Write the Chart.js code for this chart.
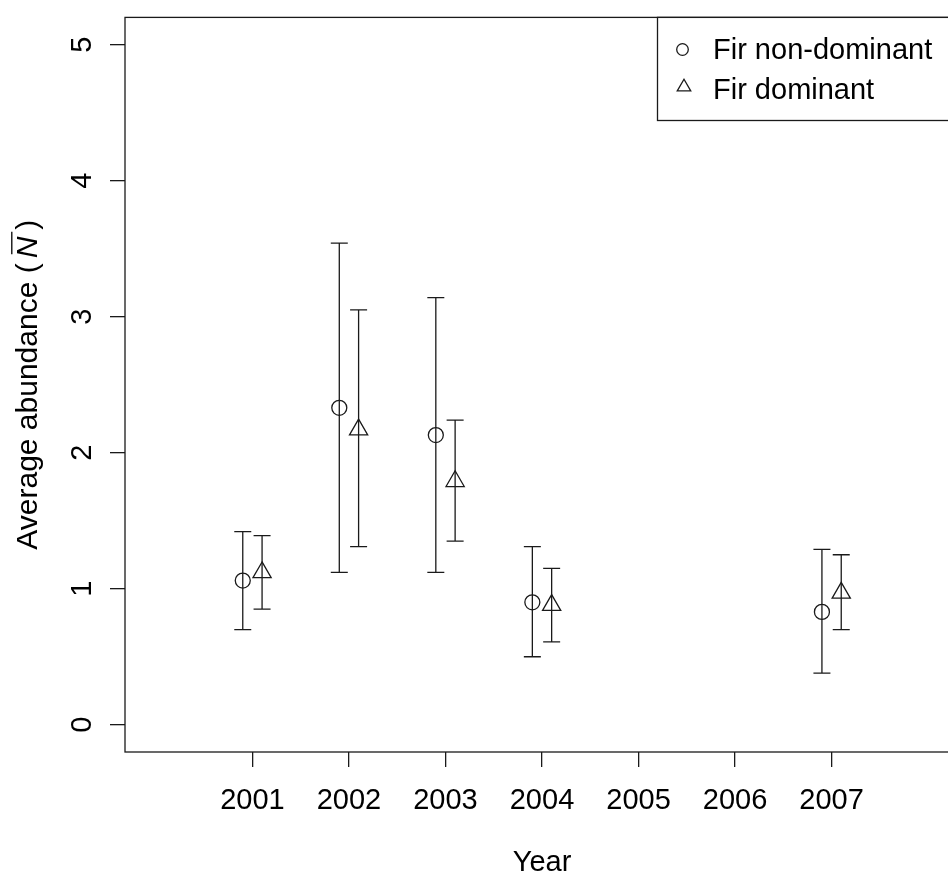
<!DOCTYPE html>
<html><head><meta charset="utf-8">
<script src="https://cdn.jsdelivr.net/npm/chart.js@4"></script>
<style>
html,body{margin:0;padding:0;background:#fff;}
#wrap{width:948px;height:875px;overflow:hidden;position:relative;background:#fff;}
canvas{display:block;}
</style></head><body>
<div id="wrap"><canvas id="c" width="975" height="875"></canvas></div>
<script>
// ---- data ----
const years = [2001, 2002, 2003, 2004, 2007];
const nonDomMean  = [1.06, 2.33, 2.13, 0.90, 0.83];
const nonDomLower = [0.70, 1.12, 1.12, 0.50, 0.38];
const nonDomUpper = [1.42, 3.54, 3.14, 1.31, 1.29];
const domMean  = [1.12, 2.17, 1.79, 0.88, 0.97];
const domLower = [0.85, 1.31, 1.35, 0.61, 0.70];
const domUpper = [1.39, 3.05, 2.24, 1.15, 1.25];
const xTickYears = [2001, 2002, 2003, 2004, 2005, 2006, 2007];
const yTicks = [0, 1, 2, 3, 4, 5];
const seriesNames = ['Fir non-dominant', 'Fir dominant'];
const xTitle = 'Year';
const yTitleParts = ['Average abundance (', 'N', ')'];

// ---- style ----
const FONT = "'Liberation Sans', Arial, Helvetica, sans-serif";
const FS = 29;
const INK = '#1a1a1a';
const LW = 1.3;
const DODGE = 0.1;

const errorBars = {
  id: 'errorBars',
  beforeDatasetsDraw(chart) {
    const {ctx, scales: {x, y}} = chart;
    ctx.save();
    ctx.strokeStyle = INK; ctx.lineWidth = LW;
    chart.data.datasets.forEach(ds => {
      ds.data.forEach(p => {
        const px = x.getPixelForValue(p.x);
        const yl = y.getPixelForValue(p.lo), yh = y.getPixelForValue(p.hi);
        ctx.beginPath();
        ctx.moveTo(px, yl); ctx.lineTo(px, yh);
        ctx.moveTo(px - 8.5, yl); ctx.lineTo(px + 8.5, yl);
        ctx.moveTo(px - 8.5, yh); ctx.lineTo(px + 8.5, yh);
        ctx.stroke();
      });
    });
    ctx.restore();
  }
};

const decorations = {
  id: 'decorations',
  afterDraw(chart) {
    const {ctx, chartArea: a, scales: {y}} = chart;
    ctx.save();
    // frame
    ctx.strokeStyle = INK; ctx.lineWidth = LW;
    ctx.strokeRect(a.left, a.top, a.right - a.left, a.bottom - a.top);
    // y tick labels (rotated)
    ctx.fillStyle = '#000';
    ctx.font = FS + 'px ' + FONT;
    yTicks.forEach(v => {
      const py = y.getPixelForValue(v);
      ctx.save();
      ctx.translate(90.5, py);
      ctx.rotate(-Math.PI / 2);
      ctx.textAlign = 'center'; ctx.textBaseline = 'alphabetic';
      ctx.fillText(String(v), 0, 0);
      ctx.restore();
    });
    // x title
    ctx.textAlign = 'center'; ctx.textBaseline = 'alphabetic';
    ctx.fillText(xTitle, (a.left + a.right) / 2, 871);
    // y title
    ctx.save();
    ctx.translate(37, (a.top + a.bottom) / 2);
    ctx.rotate(-Math.PI / 2);
    const TS = 30;
    const fN = TS + 'px ' + FONT, fI = 'italic ' + TS + 'px ' + FONT;
    ctx.font = fN; const w1 = ctx.measureText(yTitleParts[0]).width + 5;
    ctx.font = fI; const w2 = ctx.measureText(yTitleParts[1]).width + 7;
    ctx.font = fN; const w3 = ctx.measureText(yTitleParts[2]).width;
    let sx = -(w1 + w2 + w3) / 2;
    ctx.textAlign = 'left';
    ctx.font = fN; ctx.fillText(yTitleParts[0], sx, 0);
    ctx.font = fI; ctx.fillText(yTitleParts[1], sx + w1, 0);
    ctx.strokeStyle = '#000'; ctx.lineWidth = 1.3;
    ctx.beginPath();
    ctx.moveTo(sx + w1 + 4, -TS * 0.84); ctx.lineTo(sx + w1 + w2 - 2, -TS * 0.84);
    ctx.stroke();
    ctx.font = fN; ctx.fillText(yTitleParts[2], sx + w1 + w2, 0);
    ctx.restore();
    // legend
    const lx = 657.5, ly = a.top;
    ctx.strokeStyle = INK; ctx.lineWidth = LW;
    ctx.fillStyle = '#fff';
    ctx.fillRect(lx, ly, a.right - lx, 120.5 - ly);
    ctx.strokeRect(lx, ly, a.right - lx, 120.5 - ly);
    ctx.fillStyle = '#000';
    ctx.font = FS + 'px ' + FONT;
    ctx.textAlign = 'left'; ctx.textBaseline = 'alphabetic';
    ctx.fillText(seriesNames[0], 713, 59);
    ctx.fillText(seriesNames[1], 713, 99);
    ctx.beginPath(); ctx.arc(682.5, 49.5, 5.8, 0, Math.PI * 2); ctx.stroke();
    const tr = 7.8, tx = 684, ty = 87;
    ctx.beginPath();
    ctx.moveTo(tx, ty - tr);
    ctx.lineTo(tx + tr * Math.sin(2 * Math.PI / 3), ty - tr * Math.cos(2 * Math.PI / 3));
    ctx.lineTo(tx + tr * Math.sin(4 * Math.PI / 3), ty - tr * Math.cos(4 * Math.PI / 3));
    ctx.closePath(); ctx.stroke();
    ctx.restore();
  }
};

const nonDomData = years.map((yr, i) => ({x: yr - DODGE, y: nonDomMean[i], lo: nonDomLower[i], hi: nonDomUpper[i]}));
const domData = years.map((yr, i) => ({x: yr + DODGE, y: domMean[i], lo: domLower[i], hi: domUpper[i]}));

new Chart(document.getElementById('c'), {
  type: 'scatter',
  data: {
    datasets: [
      {label: seriesNames[0], data: nonDomData, pointStyle: 'circle', pointRadius: 7.5,
       borderColor: INK, borderWidth: LW, backgroundColor: 'rgba(0,0,0,0)', showLine: false},
      {label: seriesNames[1], data: domData, pointStyle: 'triangle', pointRadius: 10.5,
       borderColor: INK, borderWidth: LW, backgroundColor: 'rgba(0,0,0,0)', showLine: false}
    ]
  },
  options: {
    responsive: false, animation: false, devicePixelRatio: 1,
    layout: {padding: {top: 12, right: 16, left: 0, bottom: 0}},
    plugins: {legend: {display: false}, tooltip: {enabled: false}},
    scales: {
      x: {
        type: 'linear', min: 1999.68, max: 2008.32,
        afterBuildTicks: s => { s.ticks = xTickYears.map(v => ({value: v})); },
        afterFit: s => { s.height = 123; },
        grid: {drawOnChartArea: false, drawTicks: true, tickLength: 15, color: INK, lineWidth: LW},
        border: {display: false},
        ticks: {font: {family: FONT, size: FS}, color: '#000', padding: 17, maxRotation: 0, minRotation: 0,
                autoSkip: false, callback: v => String(v)}
      },
      y: {
        min: -0.2, max: 5.2,
        afterBuildTicks: s => { s.ticks = yTicks.map(v => ({value: v})); },
        afterFit: s => { s.width = 125; },
        grid: {drawOnChartArea: false, drawTicks: true, tickLength: 15, color: INK, lineWidth: LW},
        border: {display: false},
        ticks: {font: {family: FONT, size: FS}, color: 'rgba(0,0,0,0)', padding: 0, callback: v => String(v)}
      }
    }
  },
  plugins: [errorBars, decorations]
});
</script>
</body></html>
